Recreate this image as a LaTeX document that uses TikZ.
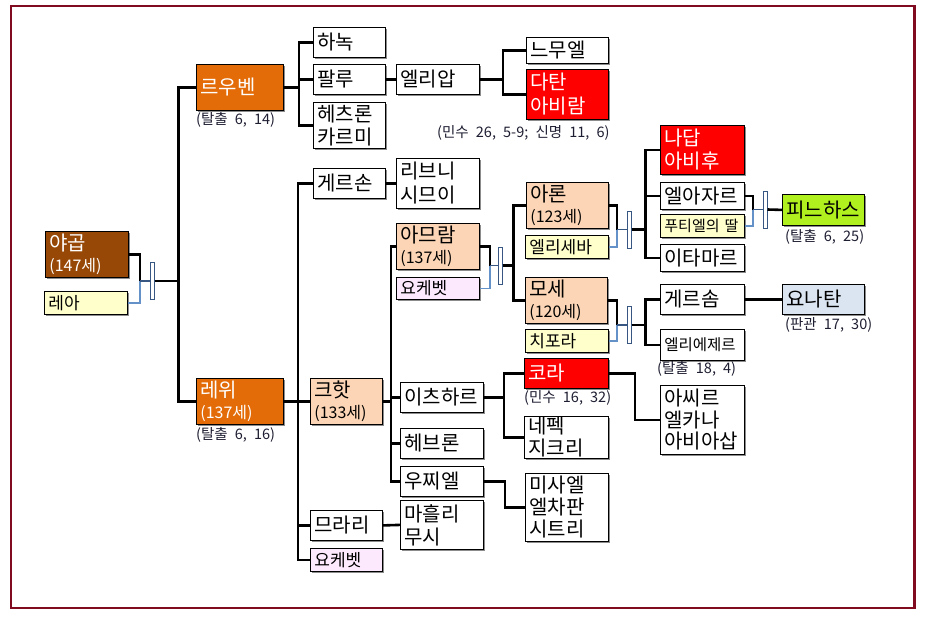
\documentclass[tikz,border=0pt]{standalone}
\usepackage{fontspec}
\setmainfont{Noto Sans CJK KR}
\newfontfamily\labfont[WordSpace=2.2]{Noto Sans CJK KR}
\usetikzlibrary{shadows}
\definecolor{framec}{RGB}{128,10,32}
\definecolor{brownc}{RGB}{152,72,6}
\definecolor{orangec}{RGB}{227,108,9}
\definecolor{peachc}{RGB}{251,213,181}
\definecolor{yellowc}{RGB}{255,255,204}
\definecolor{pinkc}{RGB}{253,233,253}
\definecolor{redc}{RGB}{255,0,0}
\definecolor{greenc}{RGB}{176,240,30}
\definecolor{bluec}{RGB}{219,229,241}
\definecolor{wblue}{RGB}{100,145,200}
\definecolor{mdark}{RGB}{56,86,130}
\definecolor{labc}{RGB}{30,30,50}
\newcommand\myage[1]{{\fontsize{16}{20}\selectfont #1}}
\begin{document}
\begin{tikzpicture}[x=1pt,y=-1pt,
  box/.style={draw=black, fill=white, line width=0.8pt, anchor=north west, inner xsep=4pt, inner ysep=0pt,
    align=left, font=\fontsize{20}{23}\selectfont,
    drop shadow={shadow xshift=1.2pt, shadow yshift=-1.2pt, fill=black!45, opacity=1}},
  wA/.style={text width=75pt},
  wB/.style={text width=64pt},
  small/.style={font=\fontsize{17}{19}\selectfont},
  smaller/.style={font=\fontsize{15.5}{18}\selectfont},
  agebox/.style={font=\fontsize{20}{21}\selectfont},
  conn/.style={line width=2.6pt, black},
  wline/.style={line width=1.2pt, wblue},
  mline/.style={line width=1.8pt, mdark},
  msym/.style={draw=mdark, fill=white, line width=1pt, minimum width=4pt, minimum height=37pt, inner sep=0pt},
  lab/.style={anchor=west, inner sep=0pt, text=labc, font=\labfont\fontsize{14.5}{16}\selectfont}]
\useasboundingbox (0,0) rectangle (925,619);
\draw[line width=2.6pt, framec] (11,6) rectangle (914.5,608);

% generation 1
\node[box,wA,agebox,minimum height=46pt,fill=brownc,text=white] (yakob) at (45,231) {야곱\\\myage{(147세)}};
\node[box,wA,small,minimum height=23pt,fill=yellowc] (lea) at (44,291) {레아};
\node[msym] (m1) at (152,281) {};
\coordinate (j1) at (140,281);

% generation 2
\node[box,text width=79pt,minimum height=46pt,fill=orangec,text=white] (reuben) at (196,64) {르우벤};
\node[box,text width=79pt,agebox,minimum height=46pt,fill=orangec,text=white] (levi) at (196,378) {레위\\\myage{(137세)}};
\node[lab] (l1) at (196,120) {(탈출 6, 14)};
\node[lab] (l2) at (196,435) {(탈출 6, 16)};

% Reuben line
\node[box,wB,minimum height=30pt] (hanok) at (313,27) {하녹};
\node[box,wB,minimum height=30pt] (pallu) at (313,64) {팔루};
\node[box,wB,minimum height=46pt] (hezron) at (313,102) {헤츠론\\카르미};
\node[box,wA,minimum height=30pt] (eliab) at (396,64) {엘리압};
\node[box,text width=74pt,minimum height=26pt] (nemuel) at (526,37) {느무엘};
\node[box,text width=74pt,minimum height=50pt,fill=redc,text=white,font=\fontsize{20}{24}\selectfont] (datan) at (526,69) {다탄\\아비람};
\node[lab] (l3) at (437,133) {(민수 26, 5-9; 신명 11, 6)};

% Levi line
\node[box,wB,minimum height=30pt] (gershon) at (313,168) {게르손};
\node[box,wA,minimum height=50pt,font=\fontsize{20}{24}\selectfont] (libni) at (396,158) {리브니\\시므이};
\node[box,wB,agebox,minimum height=46pt,fill=peachc] (kohath) at (310,378) {크핫\\\myage{(133세)}};
\node[box,wB,minimum height=30pt] (merari) at (310,510) {므라리};
\node[box,wB,small,minimum height=23pt,fill=pinkc] (jochebed1) at (310,548) {요케벳};
\node[box,wA,minimum height=49pt] (mahli) at (400,500) {마흘리\\무시};

% Kohath line
\node[box,wA,agebox,minimum height=46pt,fill=peachc] (amram) at (396,223) {아므람\\\myage{(137세)}};
\node[box,wA,small,minimum height=22pt,fill=pinkc] (jochebed2) at (396,277) {요케벳};
\node[msym] (m2) at (500,265.5) {};
\coordinate (j2) at (490,265.5);
\node[box,wA,minimum height=30pt] (izhar) at (400,382) {이츠하르};
\node[box,wA,minimum height=30pt] (hebron) at (400,428) {헤브론};
\node[box,wA,minimum height=30pt] (uzziel) at (400,466) {우찌엘};

% Amram's children
\node[box,text width=74pt,agebox,minimum height=46pt,fill=peachc] (aaron) at (526,182) {아론\\\myage{(123세)}};
\node[box,wA,small,minimum height=23pt,fill=yellowc] (elisheba) at (525,235) {엘리세바};
\node[box,text width=74pt,agebox,minimum height=46pt,fill=peachc] (moses) at (525,277) {모세\\\myage{(120세)}};
\node[box,wA,small,minimum height=23pt,fill=yellowc] (zipporah) at (525,329) {치포라};
\node[msym] (m3) at (629,229.5) {};
\coordinate (j3) at (617,229.5);
\node[msym] (m4) at (629,325) {};
\coordinate (j4) at (617,325);

% Izhar / Uzziel children
\node[box,text width=76pt,minimum height=30pt,fill=redc,text=white] (korah) at (524,358) {코라};
\node[lab] (l7) at (524,398) {(민수 16, 32)};
\node[box,text width=76pt,minimum height=42pt,font=\fontsize{20}{22}\selectfont] (nepheg) at (524,416) {네펙\\지크리};
\node[box,wA,minimum height=68pt,font=\fontsize{20}{22}\selectfont] (mishael) at (525,473) {미사엘\\엘차판\\시트리};
\node[box,text width=76pt,minimum height=69pt,font=\fontsize{20}{21.5}\selectfont] (asir) at (660,385) {아씨르\\엘카나\\아비아삽};

% Aaron's children
\node[box,text width=76pt,minimum height=49pt,fill=redc,text=white] (nadab) at (660,125) {나답\\아비후};
\node[box,text width=76pt,minimum height=27pt] (eleazar) at (660,182) {엘아자르};
\node[box,text width=76pt,minimum height=23pt,fill=yellowc,font=\fontsize{15}{17}\selectfont] (putiel) at (660,214) {푸티엘의 딸};
\node[box,text width=76pt,minimum height=27pt] (ithamar) at (660,244) {이타마르};
\node[msym] (m5) at (765,209.5) {};
\coordinate (j5) at (753,209.5);
\node[box,text width=74pt,minimum height=31pt,fill=greenc] (phinehas) at (782,194) {피느하스};
\node[lab] (l4) at (785,237) {(탈출 6, 25)};

% Moses' children
\node[box,text width=76pt,minimum height=30pt] (gershom) at (660,284) {게르솜};
\node[box,text width=76pt,smaller,minimum height=31pt] (eliezer) at (660,329) {엘리에제르};
\node[lab] (l6) at (657,369) {(탈출 18, 4)};
\node[box,text width=74pt,minimum height=30pt,fill=bluec] (jonathan) at (782,284) {요나탄};
\node[lab] (l5) at (785,325) {(판관 17, 30)};

% connectors: Jacob & Leah
\draw[conn] (yakob.east) -| (j1);
\draw[wline] (lea.east) -| (j1);
\draw[mline] (j1) -- (m1.west);
\draw[conn] (m1.east) -- ++(24,0) |- (reuben.west);
\draw[conn] (m1.east) -- ++(24,0) |- (levi.west);

% Reuben
\draw[conn] (reuben.east) -- ++(15,0) |- (hanok.west);
\draw[conn] (reuben.east) -- ++(15,0) |- (pallu.west);
\draw[conn] (reuben.east) -- ++(15,0) |- (hezron.west);
\draw[conn] (pallu.east) -- (eliab.west);
\draw[conn] (eliab.east) -- ++(23,0) |- (nemuel.west);
\draw[conn] (eliab.east) -- ++(23,0) |- (datan.west);

% Levi
\draw[conn] (levi.east) -- ++(14,0) |- (gershon.west);
\draw[conn] (levi.east) -- ++(14,0) |- (kohath.west);
\draw[conn] (levi.east) -- ++(14,0) |- (merari.west);
\draw[conn] (levi.east) -- ++(14,0) |- (jochebed1.west);
\draw[conn] (gershon.east) -- (libni.west);
\draw[conn] (merari.east) -- (mahli.west);

% Kohath
\draw[conn] (kohath.east) -- ++(8,0) |- (amram.west);
\draw[conn] (kohath.east) -- ++(8,0) |- (izhar.west);
\draw[conn] (kohath.east) -- ++(8,0) |- (hebron.west);
\draw[conn] (kohath.east) -- ++(8,0) |- (uzziel.west);

% Amram & Jochebed
\draw[conn] (amram.east) -| (j2);
\draw[wline] (jochebed2.east) -| (j2);
\draw[mline] (j2) -- (m2.west);
\draw[conn] (m2.east) -- ++(11,0) |- (aaron.west);
\draw[conn] (m2.east) -- ++(11,0) |- (moses.west);

% Aaron & Elisheba
\draw[conn] (aaron.east) -| (j3);
\draw[wline] (elisheba.east) -| (j3);
\draw[mline] (j3) -- (m3.west);
\draw[conn] (m3.east) -- ++(14,0) |- (nadab.west);
\draw[conn] (m3.east) -- ++(14,0) |- (eleazar.west);
\draw[conn] (m3.east) -- ++(14,0) |- (ithamar.west);

% Eleazar & Putiel's daughter
\draw[conn] (eleazar.east) -| (j5);
\draw[wline] (putiel.east) -| (j5);
\draw[mline] (j5) -- (m5.west);
\draw[conn] (m5.east) -- (phinehas.west);

% Moses & Zipporah
\draw[conn] (moses.east) -| (j4);
\draw[wline] (zipporah.east) -| (j4);
\draw[mline] (j4) -- (m4.west);
\draw[conn] (m4.east) -- ++(14,0) |- (gershom.west);
\draw[conn] (m4.east) -- ++(14,0) |- (eliezer.west);
\draw[conn] (gershom.east) -- (jonathan.west);

% Izhar, Korah, Uzziel
\draw[conn] (izhar.east) -- ++(20,0) |- (korah.west);
\draw[conn] (izhar.east) -- ++(20,0) |- (nepheg.west);
\draw[conn] (korah.east) -- ++(26,0) |- (asir.west);
\draw[conn] (uzziel.east) -- ++(21,0) |- (mishael.west);
\end{tikzpicture}
\end{document}
